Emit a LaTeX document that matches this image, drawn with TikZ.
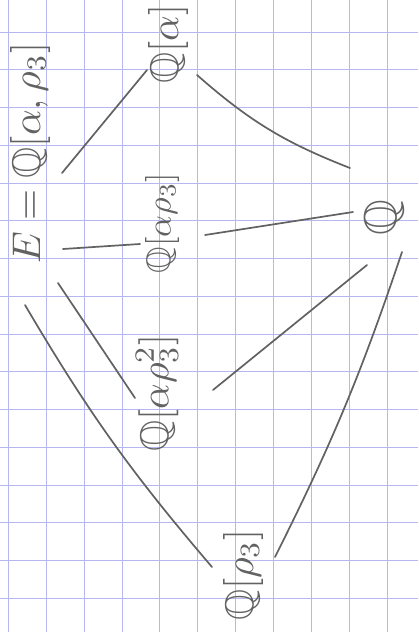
\documentclass[tikz,border=0pt]{standalone}
\usepackage{amsmath,amssymb}
\usepackage{xcolor}
\usepackage{tikz}
\usetikzlibrary{calc}
\definecolor{PADgrid}{RGB}{182,182,240}
\definecolor{PADpencil}{RGB}{98,98,98}
\tikzset{
  gridline/.style={draw=PADgrid, line width=1pt},
  fieldlabel/.style={rotate=90, scale=4, text=PADpencil, inner sep=0pt},
  linkline/.style={draw=PADpencil, line width=1.7pt, line cap=round}
}

\begin{document}
\begin{tikzpicture}[x=1pt, y=-1pt]
\useasboundingbox[fill=white] (0,0) rectangle (418,632);
\foreach \i in {0,...,10}
  \draw[gridline] ({8.5+37.85*\i},0) -- ++(0,632);
\foreach \j in {0,...,15}
  \draw[gridline] (0,{32+37.75*\j}) -- ++(418,0);

\node[fieldlabel] (E) at (30,153) {$E=\mathbb{Q}[\alpha,\rho_3]$};
\node[fieldlabel] (Qa) at (168,44) {$\mathbb{Q}[\alpha]$};
\node[fieldlabel, scale=0.85] (Qar) at (162,223) {$\mathbb{Q}[\alpha\rho_3]$};
\node[fieldlabel] (Qarr) at (157,393) {$\mathbb{Q}[\alpha\rho_3^2]$};
\node[fieldlabel] (Qr) at (243,575) {$\mathbb{Q}[\rho_3]$};
\node[fieldlabel, scale=1.15] (Q) at (384,218) {$\mathbb{Q}$};

\draw[linkline] ($(E)+(32,20)$) -- ($(Qa)+(-21,26)$);
\draw[linkline] ($(E)+(33,96)$) -- ($(Qar)+(-22,21)$);
\draw[linkline] ($(E)+(28,130)$) -- ($(Qarr)+(-22,5)$);
\draw[linkline] ($(E)+(-5,152)$) to[bend right=5] ($(Qr)+(-31,-8)$);
\draw[linkline] ($(Qa)+(29,31)$) to[bend right=10] ($(Q)+(-34,-50)$);
\draw[linkline] ($(Qar)+(43,12)$) -- ($(Q)+(-31,-6)$);
\draw[linkline] ($(Qarr)+(56,-3)$) -- ($(Q)+(-17,47)$);
\draw[linkline] ($(Q)+(18,34)$) to[bend left=4] ($(Qr)+(32,-18)$);
\end{tikzpicture}
\end{document}
